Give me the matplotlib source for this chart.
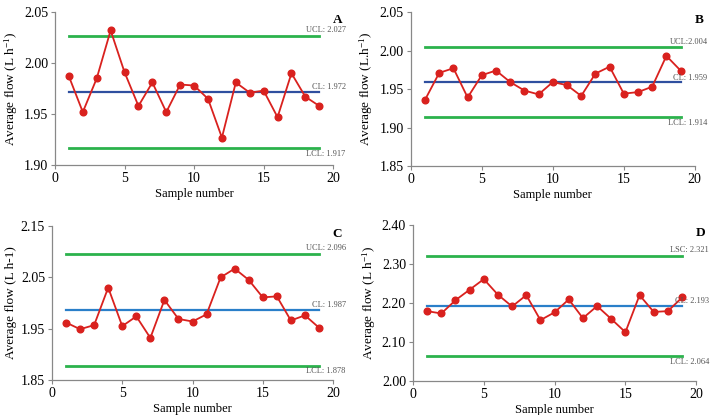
import matplotlib as mpl
mpl.use("Agg")
import matplotlib.pyplot as plt

mpl.rcParams["font.family"] = ["Liberation Serif", "DejaVu Serif"]
mpl.rcParams["mathtext.fontset"] = "custom"
mpl.rcParams["mathtext.rm"] = "Liberation Serif"
mpl.rcParams["mathtext.it"] = "Liberation Serif:italic"
mpl.rcParams["axes.spines.right"] = False
mpl.rcParams["axes.spines.top"] = False

# DATA
samples = list(range(1, 20))

flow_a = [1.987, 1.952, 1.985, 2.032, 1.991, 1.958, 1.981, 1.952, 1.979, 1.978,
          1.965, 1.927, 1.981, 1.971, 1.973, 1.947, 1.990, 1.967, 1.958]
flow_b = [1.936, 1.971, 1.977, 1.939, 1.968, 1.974, 1.959, 1.948, 1.943, 1.959,
          1.955, 1.941, 1.970, 1.979, 1.944, 1.946, 1.953, 1.993, 1.974]
flow_c = [1.962, 1.949, 1.957, 2.030, 1.955, 1.974, 1.932, 2.006, 1.969, 1.964,
          1.978, 2.050, 2.067, 2.045, 2.011, 2.013, 1.966, 1.976, 1.952]
flow_d = [2.179, 2.173, 2.207, 2.234, 2.261, 2.221, 2.191, 2.220, 2.156, 2.176,
          2.209, 2.161, 2.192, 2.159, 2.125, 2.220, 2.177, 2.179, 2.214]

limits_a = (2.027, 1.972, 1.917)
limits_b = (2.004, 1.959, 1.914)
limits_c = (2.096, 1.987, 1.878)
limits_d = (2.321, 2.193, 2.064)

labels_a = ("UCL: 2.027", "CL: 1.972", "LCL: 1.917")
labels_b = ("UCL:2.004", "CL: 1.959", "LCL: 1.914")
labels_c = ("UCL: 2.096", "CL: 1.987", "LCL: 1.878")
labels_d = ("LSC: 2.321", "CL: 2.193", "LCL: 2.064")

ylabels = ["Average flow (L h$^{-1}$)", "Average flow (L.h$^{-1}$)",
           "Average flow (L h-1)", "Average flow (L h$^{-1}$)"]
yticks = [[1.90, 1.95, 2.00, 2.05], [1.85, 1.90, 1.95, 2.00, 2.05],
          [1.85, 1.95, 2.05, 2.15], [2.00, 2.10, 2.20, 2.30, 2.40]]
letters = ["A", "B", "C", "D"]

GREEN = "#2bb24c"
RED = "#d9211e"
BLUES = ["#2f4f9f", "#2f4f9f", "#2a7fc9", "#2a7fc9"]
GREY = "#555555"

fig = plt.figure(figsize=(7.17, 4.15), dpi=100)
positions = [[0.0767, 0.602, 0.388, 0.369],
             [0.573, 0.600, 0.396, 0.371],
             [0.0725, 0.0843, 0.392, 0.371],
             [0.576, 0.082, 0.395, 0.376]]

panels = [(flow_a, limits_a, labels_a), (flow_b, limits_b, labels_b),
          (flow_c, limits_c, labels_c), (flow_d, limits_d, labels_d)]

for ii, (flow, lims, labs) in enumerate(panels):
    ax = fig.add_axes(positions[ii])
    ucl, cl, lcl = lims
    x0, x1 = samples[0], samples[-1]
    ax.plot([x0, x1], [ucl, ucl], color=GREEN, lw=2.0, zorder=2)
    ax.plot([x0, x1], [lcl, lcl], color=GREEN, lw=2.0, zorder=2)
    ax.plot([x0, x1], [cl, cl], color=BLUES[ii], lw=1.6, zorder=2)
    ax.plot(samples, flow, color=RED, lw=1.3, marker="o", ms=4.8, zorder=3)

    yt = yticks[ii]
    ax.set_ylim(yt[0], yt[-1])
    ax.set_yticks(yt)
    ax.set_yticklabels([f"{v:.2f}" for v in yt])
    ax.set_xlim(0, 20)
    ax.set_xticks([0, 5, 10, 15, 20])

    span = yt[-1] - yt[0]
    off = span * 0.012
    ax.text(20.9, ucl + off, labs[0], ha="right", va="bottom", fontsize=6, color=GREY, clip_on=False)
    ax.text(20.9, cl + off * 0.3, labs[1], ha="right", va="bottom", fontsize=6, color=GREY, clip_on=False)
    ax.text(20.9, lcl - off, labs[2], ha="right", va="top", fontsize=6, color=GREY, clip_on=False)
    ax.text(20.3, yt[-1] - span * 0.015, letters[ii], ha="center", va="top",
            fontsize=9.5, fontweight="bold", clip_on=False)

    for side in ("left", "bottom"):
        ax.spines[side].set_color("#888888")
        ax.spines[side].set_linewidth(0.9)
    ax.tick_params(direction="out", length=3, width=0.8, color="#888888",
                   labelsize=10, pad=2)
    ax.set_xlabel("Sample number", fontsize=9, labelpad=2)
    ax.set_ylabel(ylabels[ii], fontsize=9.5, labelpad=3)

fig.savefig("out.png", dpi=100)
